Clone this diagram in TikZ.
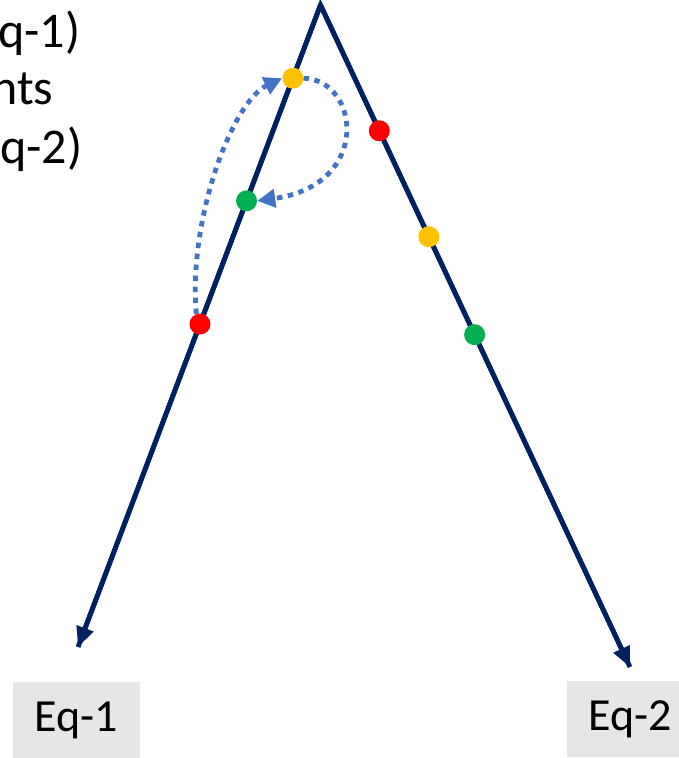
\documentclass[tikz,border=0pt]{standalone}
\usepackage{fontspec}
\setmainfont{Carlito}
\usepackage{xcolor}
\usepackage{tikz}
\usetikzlibrary{arrows.meta}
\definecolor{C1}{HTML}{002060}
\definecolor{C2}{HTML}{4472C4}
\definecolor{Cred}{HTML}{FF0000}
\definecolor{Cyel}{HTML}{FFC000}
\definecolor{Cgrn}{HTML}{00B050}
\definecolor{Cbox}{HTML}{E6E6E6}

\begin{document}
\begin{tikzpicture}[x=1pt,y=-1pt,
      branch/.style={C1,line width=4.8pt,miter limit=20,
                     -{Triangle[length=20pt,width=17pt]}},
      dot/.style={circle,inner sep=0pt,minimum size=21pt},
      hop/.style={C2,line width=4.8pt,dash pattern=on 5.5pt off 5.5pt,
                  -{Triangle[length=18pt,width=18pt]}},
      eqbox/.style={fill=Cbox,minimum width=127pt,minimum height=76pt,
                    inner sep=0pt,font=\fontsize{46}{55}\selectfont},
      side/.style={anchor=base west,inner sep=0pt,
                   font=\fontsize{50}{60}\selectfont}]
    \useasboundingbox (0,0) rectangle (679,758);
    \clip (0,0) rectangle (679,758);
    \coordinate (apex) at (320.5,5);
    \coordinate (end1) at (78,647);
    \coordinate (end2) at (630,667);
    \draw[branch] (apex) -- (end1);
    \draw[branch] (apex) -- (end2);
    \draw[C1,line width=4.8pt,miter limit=20] (end1) -- (apex) -- (end2);
    % points on the two branches
    \path (apex) -- (end1)
      node[dot,fill=Cyel,pos=0.114] (y1) {}
      node[dot,fill=Cgrn,pos=0.305] (g1) {}
      node[dot,fill=Cred,pos=0.497] (r1) {};
    \path (apex) -- (end2)
      node[dot,fill=Cred,pos=0.190] (r2) {}
      node[dot,fill=Cyel,pos=0.350] (y2) {}
      node[dot,fill=Cgrn,pos=0.498] (g2) {};
    \draw[hop] (r1.110) .. controls (188,220) and (232,102) .. (y1.west);
    \draw[hop] (y1.east) .. controls (360,80) and (372,185) .. (g1.east);
    % labels
    \node[eqbox] (eq1) at (76.5,720) {Eq-1};
    \node[eqbox] (eq2) at (630.5,719) {Eq-2};
    \node[side] (t1) at (-2,47) {q-1)};
    \node[side] (t2) at (-9,104) {nts};
    \node[side] (t3) at (0,163) {q-2)};
  \end{tikzpicture}
\end{document}
